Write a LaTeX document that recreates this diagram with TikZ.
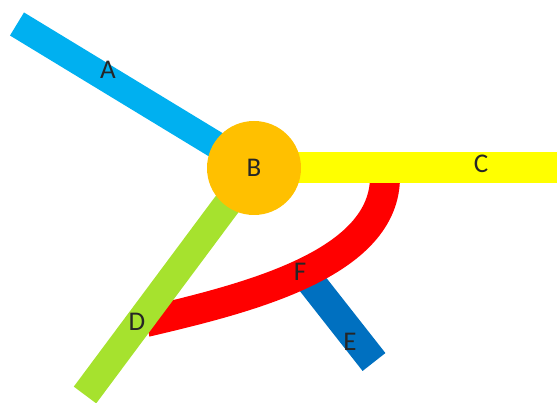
\documentclass[tikz,border=0pt]{standalone}
\usepackage{fontspec}
\setmainfont{Carlito}
\usepackage{tikz}
\usetikzlibrary{calc}

\definecolor{barA}{RGB}{0,176,240}
\definecolor{hubB}{RGB}{255,192,0}
\definecolor{barC}{RGB}{255,255,0}
\definecolor{barD}{RGB}{166,226,46}
\definecolor{barE}{RGB}{0,112,192}
\definecolor{barF}{RGB}{255,0,0}

\tikzset{
  bar/.style={line width=29pt, line cap=butt},
  hub/.style={circle, fill=hubB, minimum size=94pt, inner sep=0pt},
  lbl/.style={font=\fontsize{27}{27}\selectfont, text=black!85, inner sep=0pt}
}

\begin{document}
\begin{tikzpicture}[x=1pt, y=-1pt]
        % page frame, same size as the original picture
        \useasboundingbox (0,0) rectangle (557,403);

        % hub position and the free ends of the bars
        \coordinate (hub) at (254,168);
        \coordinate (endA) at (17,24);
        \coordinate (endC) at (557,168);
        \coordinate (endD) at (85,395);
        \coordinate (topE) at (308,278);
        \coordinate (endE) at (374,362);
        \coordinate (topF) at (385,176);
        \coordinate (endF) at (146,322);

        % E sits under the red arc
        \draw[bar, draw=barE] (topE) -- (endE);

        % red arc F, from C down to D
        \draw[bar, line width=30pt, draw=barF] (topF) .. controls (386,264) and (248,298) .. (endF);

        % the three bars that meet at the hub
        \draw[bar, line width=27pt, draw=barA] (hub) -- (endA);
        \draw[bar, line width=31pt, draw=barC] (hub) -- (endC);
        \draw[bar, line width=28pt, draw=barD] (hub) -- (endD);

        % hub B on top
        \node[hub, lbl, minimum size=94pt] (B) at (hub) {B};

        % labels on the bars
        \node[lbl] (labA) at (108,70) {A};
        \node[lbl] (labC) at (481,164) {C};
        \node[lbl] (labD) at (137,322) {D};
        \node[lbl] (labE) at (350,342) {E};
        \node[lbl] (labF) at (300,272) {F};
\end{tikzpicture}
\end{document}
